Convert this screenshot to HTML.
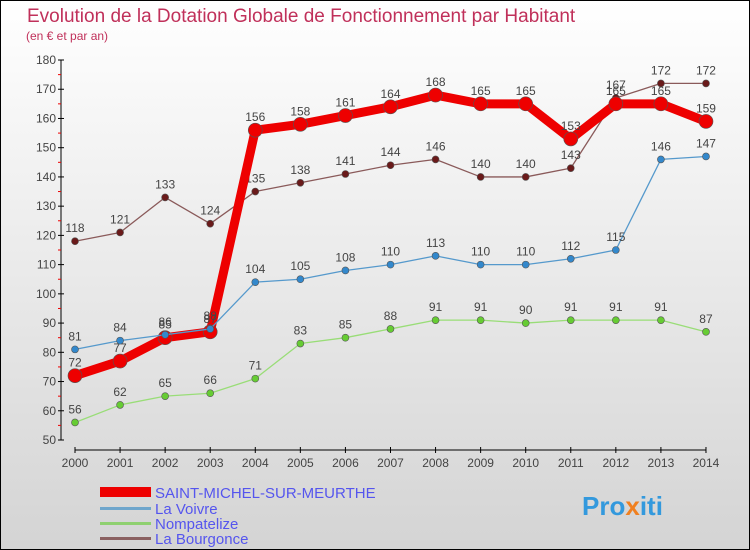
<!DOCTYPE html>
<html><head><meta charset="utf-8"><style>
body{margin:0}
#c{width:750px;height:550px;position:relative;background:linear-gradient(#ffffff,#d4d4d4);box-sizing:border-box;border:1px solid #000;overflow:hidden;font-family:"Liberation Sans",sans-serif}
</style></head><body>
<div id="c">
<svg id="s" width="750" height="550" style="position:absolute;left:-1px;top:-1px" font-family="Liberation Sans, sans-serif">
<text x="27" y="22" font-size="19" fill="#c0305a">Evolution de la Dotation Globale de Fonctionnement par Habitant</text>
<text x="26" y="40" font-size="12" fill="#c0305a">(en € et par an)</text>
<g id="axes"></g><g id="series"></g>
<g>
<rect x="100" y="487" width="51" height="10" fill="#e00"/>
<text x="155" y="498" font-size="15" fill="#5555ee">SAINT-MICHEL-SUR-MEURTHE</text>
<rect x="100" y="507" width="51" height="3" fill="#6fa6cc"/>
<text x="155" y="514" font-size="15" fill="#5555ee">La Voivre</text>
<rect x="100" y="522" width="51" height="3" fill="#8fd070"/>
<text x="155" y="529" font-size="15" fill="#5555ee">Nompatelize</text>
<rect x="100" y="537" width="51" height="3" fill="#8a6060"/>
<text x="155" y="544" font-size="15" fill="#5555ee">La Bourgonce</text>
</g>
<text x="582" y="515" font-size="26" font-weight="bold" fill="#3399dd">Pro<tspan fill="#f08020">x</tspan>iti</text>
</svg>
</div>
<script>
const years=[2000,2001,2002,2003,2004,2005,2006,2007,2008,2009,2010,2011,2012,2013,2014];
const yTicks=[50,60,70,80,90,100,110,120,130,140,150,160,170,180];
const smsm=[72,77,85,87,156,158,161,164,168,165,165,153,165,165,159];
const voivre=[81,84,86,88,104,105,108,110,113,110,110,112,115,146,147];
const nompatelize=[56,62,65,66,71,83,85,88,91,91,90,91,91,91,87];
const bourgonce=[118,121,133,124,135,138,141,144,146,140,140,143,167,172,172];
const NS="http://www.w3.org/2000/svg";
function X(i){return 75+i*45.07;}
function Y(v){return 440-(v-50)*29.23/10;}
function mk(t,a,p){const e=document.createElementNS(NS,t);for(const k in a)e.setAttribute(k,a[k]);p.appendChild(e);return e;}
const ax=document.getElementById('axes');
let l=mk('line',{x1:61,y1:Y(180),x2:61,y2:Y(50),stroke:'#000'},ax);


yTicks.forEach(v=>{
 mk('line',{x1:58,x2:64,y1:Y(v),y2:Y(v),stroke:'#000'},ax);
 if(v<180)mk('line',{x1:58,x2:61,y1:Y(v+5),y2:Y(v+5),stroke:'#e00'},ax);
 const t=mk('text',{x:56,y:Y(v)+4,'font-size':12,'text-anchor':'end',fill:'#444'},ax);t.textContent=v;
 
 
});
l=mk('line',{x1:X(0),x2:X(14),y1:450,y2:450,stroke:'#000'},ax);


years.forEach((y,i)=>{
 mk('line',{x1:X(i),x2:X(i),y1:447,y2:453,stroke:'#000'},ax);
 const t=mk('text',{x:X(i),y:467,'font-size':12,'text-anchor':'middle',fill:'#444'},ax);t.textContent=y;
 
 
});
const sg=document.getElementById('series');
function draw(vals,name,col,dot,w,r){
 const g=mk('g',{},sg);
 
 
 const p=mk('polyline',{points:vals.map((v,i)=>X(i)+','+Y(v)).join(' '),fill:'none',stroke:col,'stroke-width':w,'stroke-linejoin':'round'},g);
 
 
 vals.forEach((v,i)=>{
  const c=mk('circle',{cx:X(i),cy:Y(v),r:r,fill:dot,stroke:'#555','stroke-width':0.6},g);
  
  
  const t=mk('text',{x:X(i),y:Y(v)-9,'font-size':12,'text-anchor':'middle',fill:'#444'},g);t.textContent=v;
  
  
 });
}
draw(bourgonce,'la-bourgonce','#8a5a5a','#6a1a1a',1.3,3.5);
draw(nompatelize,'nompatelize','#99dd77','#66cc33',1.3,3.5);
draw(smsm,'saint-michel','#ee0000','#ee0000',9,7);
draw(voivre,'la-voivre','#5599cc','#3388cc',1.3,3.5);
</script>
</body></html>
